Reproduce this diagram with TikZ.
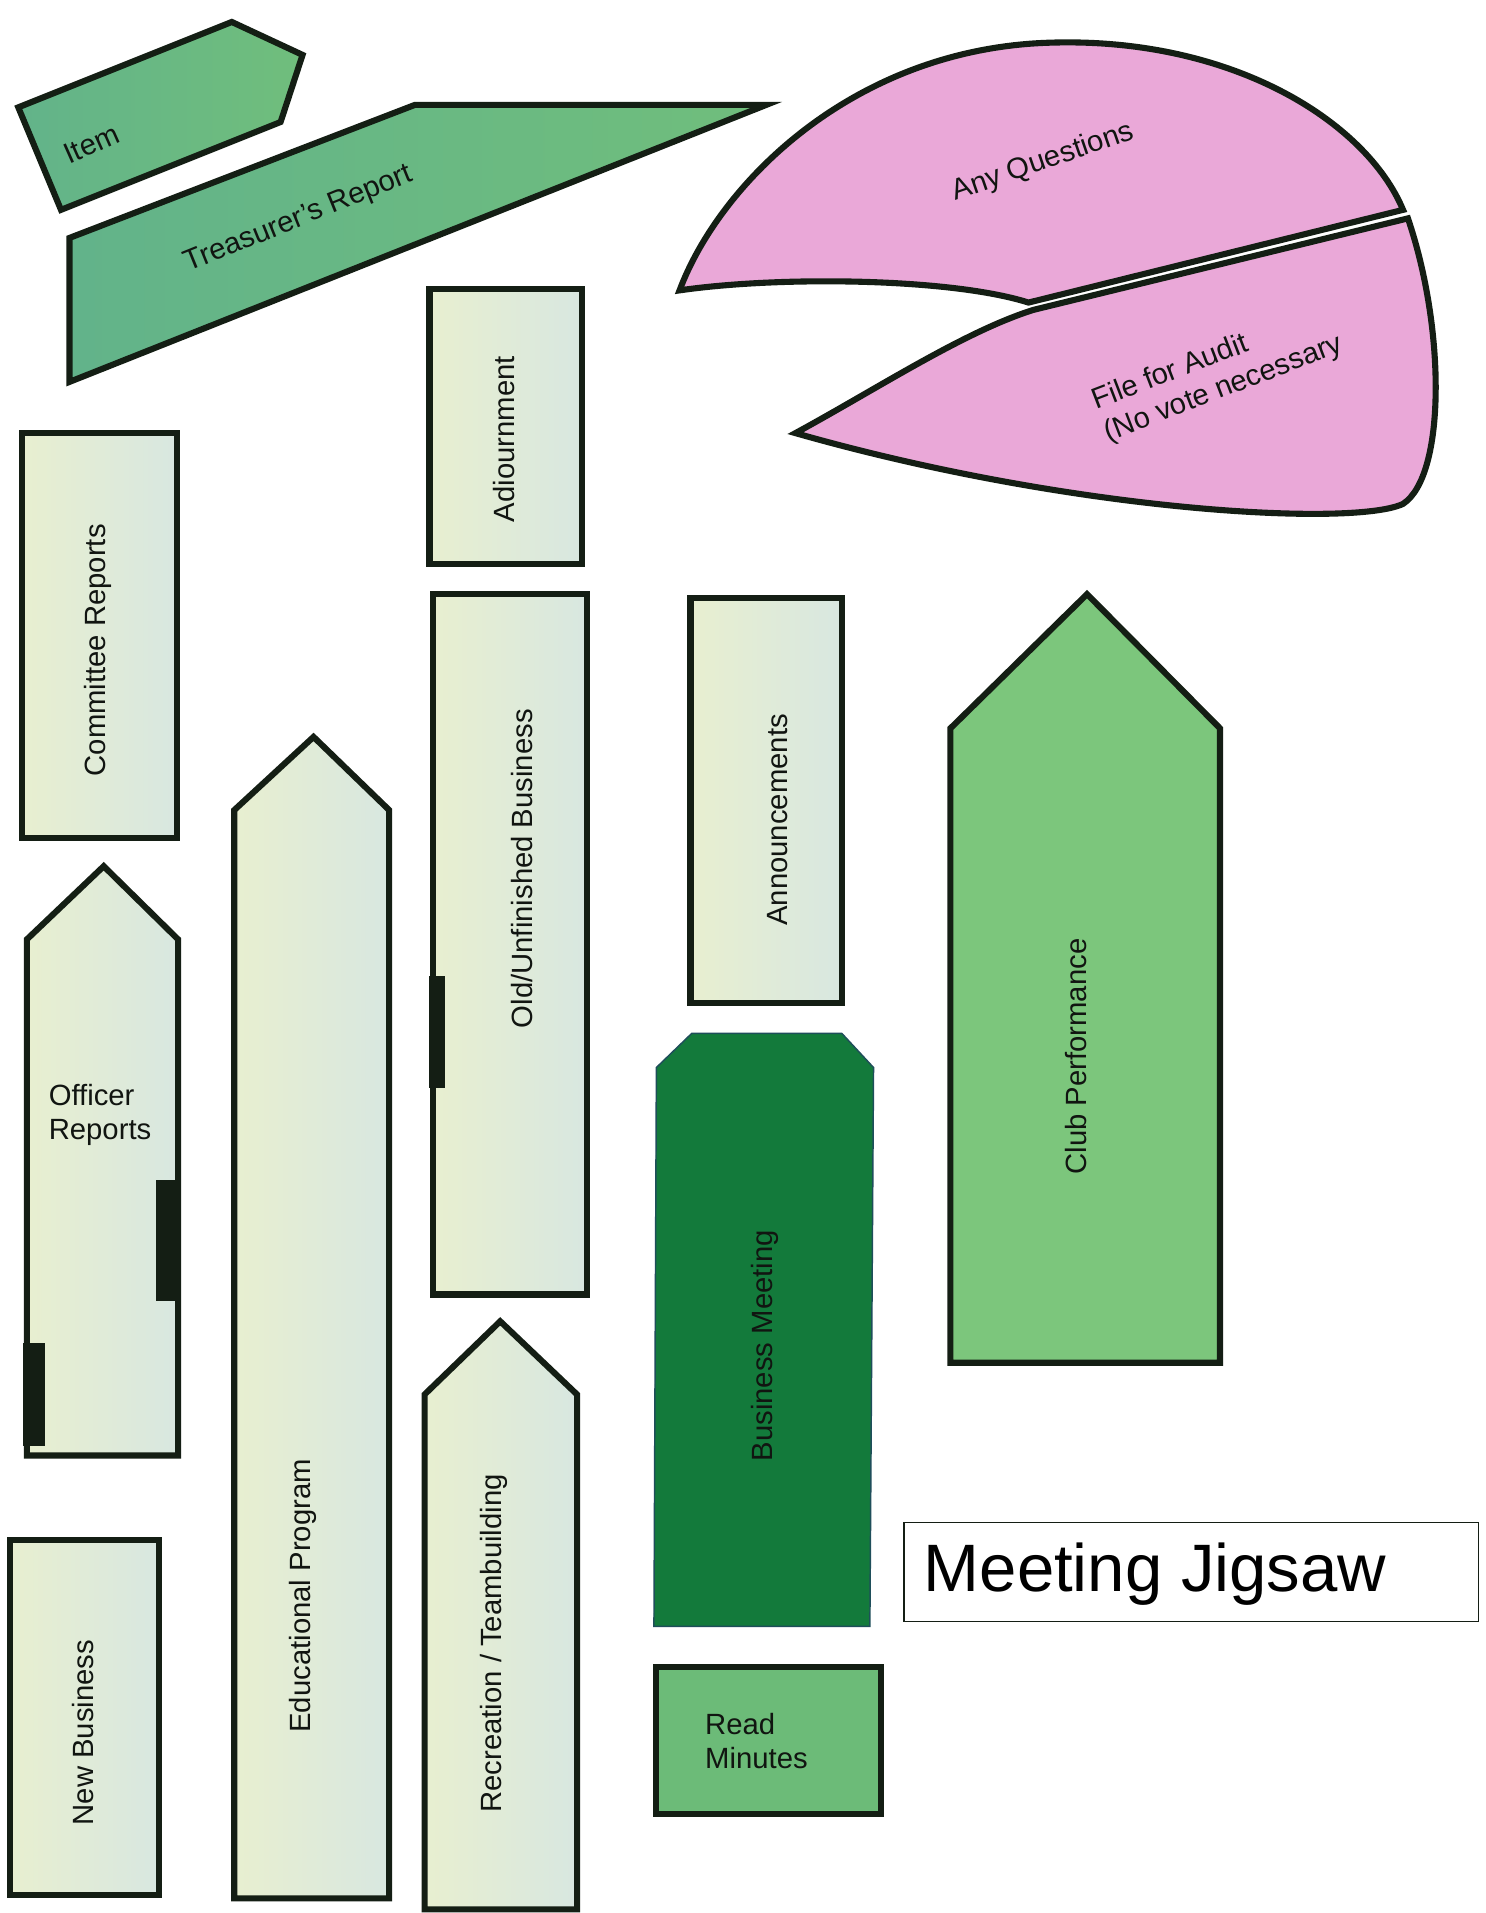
\documentclass[tikz,border=0pt]{standalone}
\usepackage{fontspec}
\setmainfont{Liberation Sans}
\definecolor{edge}{HTML}{141E14}
\definecolor{paleA}{HTML}{E8EFD0}
\definecolor{paleB}{HTML}{D8E7E0}
\definecolor{midA}{HTML}{62B38A}
\definecolor{midB}{HTML}{70BE7C}
\definecolor{club}{HTML}{7CC67C}
\definecolor{minutes}{HTML}{6CBB78}
\definecolor{bizm}{HTML}{137A3B}
\definecolor{bizedge}{HTML}{1E4E5A}
\definecolor{pinkfill}{HTML}{EAA8D8}
\definecolor{ink}{HTML}{111511}
\tikzset{
  palepiece/.style={draw=edge, line width=5pt, left color=paleA, right color=paleB},
  midpiece/.style={draw=edge, line width=5pt, left color=midA, right color=midB},
  pinkpiece/.style={draw=edge, line width=5pt, fill=pinkfill},
  lbl/.style={font=\fontsize{24}{28}\selectfont, text=ink, inner sep=0pt},
  vlbl/.style={lbl, rotate=90},
  blackbar/.style={fill=edge, draw=none}
}
\begin{document}
\begin{tikzpicture}[x=1pt,y=-1pt]
\useasboundingbox (0,0) rectangle (1218,1568);
\fill[white] (0,0) rectangle (1218,1568);

% Item
\draw[midpiece] (15,88) -- (190,18) -- (248,45) -- (230,100) -- (50,172) -- cycle;
\node[lbl, rotate=24] (item) at (75,118) {Item};

% Treasurer's Report
\draw[midpiece] (57,195) -- (340,86) -- (628,86) -- (57,313) -- cycle;
\node[lbl, rotate=22] (treas) at (245,180) {Treasurer's Report};

% Pink pieces
\draw[pinkpiece] (557,238) .. controls (590,150) and (700,40) .. (860,35)
  .. controls (1010,30) and (1120,100) .. (1150,172) -- (843,248)
  .. controls (780,228) and (640,226) .. (557,238) -- cycle;
\draw[pinkpiece] (652,355) .. controls (720,318) and (790,272) .. (847,254)
  -- (1154,179) .. controls (1185,270) and (1185,390) .. (1150,413)
  .. controls (1110,432) and (880,420) .. (652,355) -- cycle;
\node[lbl, rotate=19] (anyq) at (855,133) {Any Questions};
\node[lbl, rotate=21, align=left] (audit) at (998,306) {File for Audit\\(No vote necessary};

% Adiournment
\draw[palepiece] (352,237) rectangle (477,462);
\node[vlbl] (adj) at (413,360) {Adiournment};

% Committee Reports
\draw[palepiece] (18,355) rectangle (145,687);
\node[vlbl] (comm) at (80,533) {Committee Reports};

% Old/Unfinished Business
\draw[palepiece] (355,487) rectangle (481,1061);
\fill[blackbar] (352,800) rectangle (365,892);
\node[vlbl] (old) at (428,712) {Old/Unfinished Business};

% Announcements
\draw[palepiece] (566,490) rectangle (690,822);
\node[vlbl] (ann) at (637,672) {Announcements};

% Officer Reports
\draw[palepiece] (22,770) -- (85,710) -- (146,770) -- (146,1193) -- (22,1193) -- cycle;
\fill[blackbar] (128,967) rectangle (148,1066);
\fill[blackbar] (19,1101) rectangle (37,1185);
\node[lbl, align=left] (off) at (82,914) {Officer\\Reports};

% Educational Program
\draw[palepiece] (192,664) -- (257,604) -- (319,664) -- (319,1556) -- (192,1556) -- cycle;
\node[vlbl] (edu) at (248,1308) {Educational Program};

% Recreation / Teambuilding
\draw[palepiece] (348,1143) -- (410,1083) -- (473,1143) -- (473,1565) -- (348,1565) -- cycle;
\node[vlbl] (rec) at (405,1347) {Recreation / Teambuilding};

% New Business
\draw[palepiece] (8,1262) rectangle (130,1553);
\node[vlbl] (newb) at (68,1420) {New Business};

% Business Meeting
\draw[fill=bizm, draw=bizedge, line width=1.2pt] (538,875) -- (567,847) -- (690,847) -- (716,875) -- (713,1333) -- (536,1333) -- cycle;
\node[vlbl] (bizmeet) at (627,1103) {Business Meeting};

% Read Minutes
\draw[draw=edge, line width=5pt, fill=minutes] (538,1366) rectangle (722,1487);
\node[lbl, align=left] (mins) at (620,1427) {Read\\Minutes};

% Club Performance
\draw[draw=edge, line width=5pt, fill=club] (779,597) -- (891,487) -- (1000,597) -- (1000,1117) -- (779,1117) -- cycle;
\node[vlbl] (club) at (882,866) {Club Performance};

% Title
\draw[draw=edge, line width=1.2pt, fill=white] (741,1248) rectangle (1212,1329);
\node[font=\fontsize{55}{60}\selectfont, text=black, anchor=west, inner sep=0pt] (title) at (757,1290) {Meeting Jigsaw};
\end{tikzpicture}
\end{document}
